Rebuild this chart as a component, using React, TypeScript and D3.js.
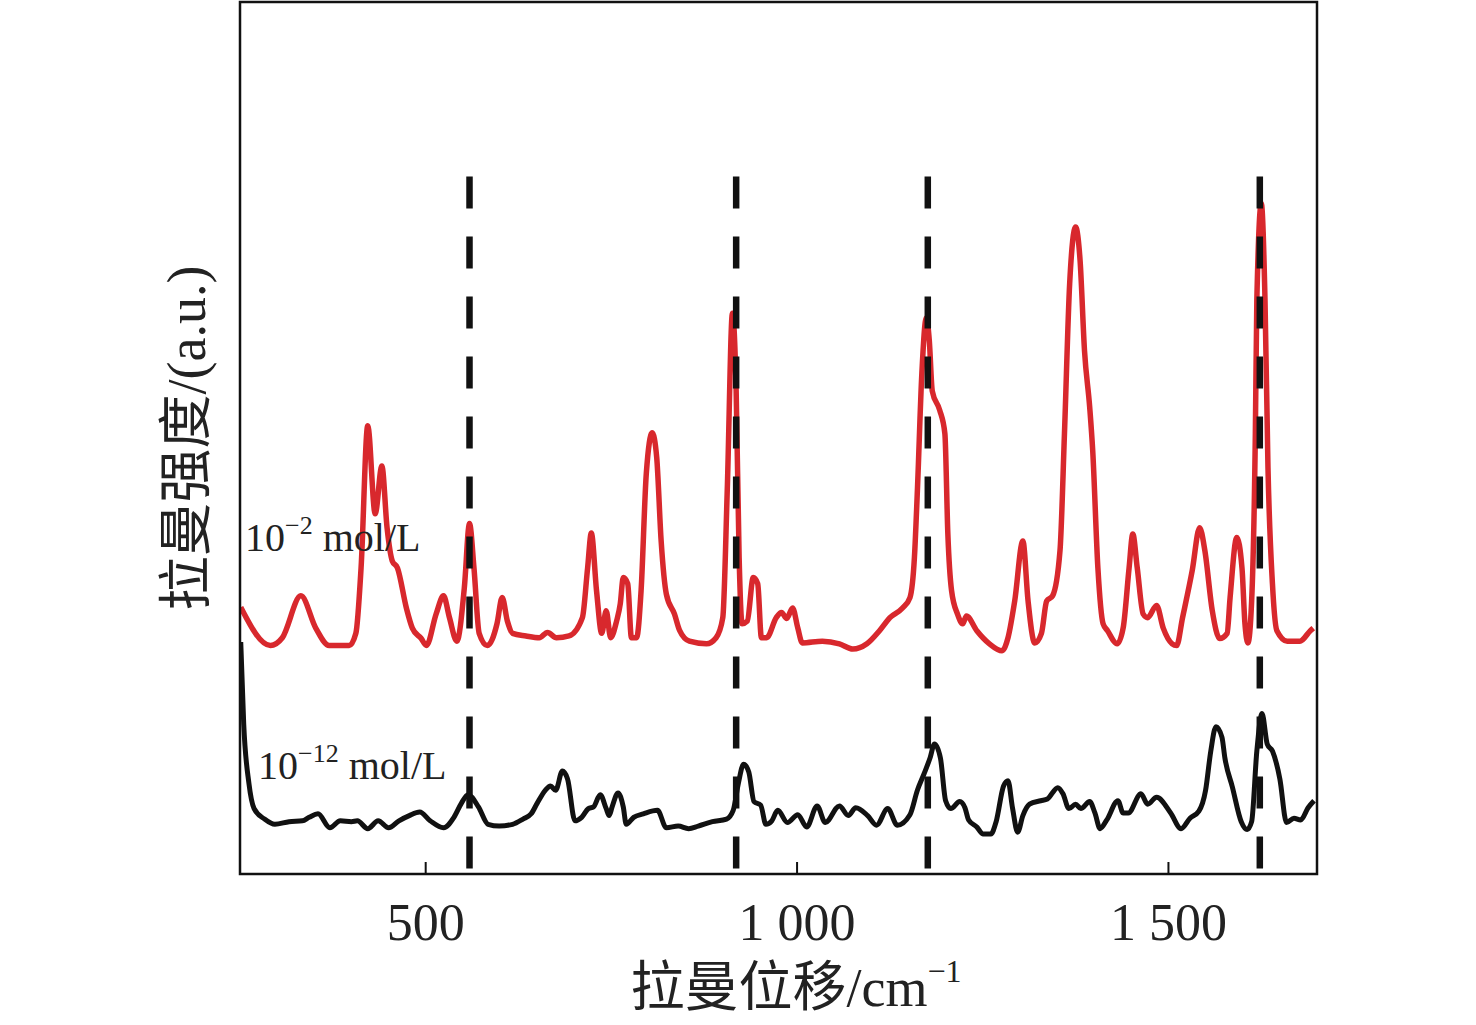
import * as d3 from 'd3';

// Raman shift (cm^-1) and intensity (a.u.)
const redShift = [
  251, 291, 307, 332, 352, 370, 397, 406, 413, 422, 432, 441, 448, 455, 462, 474, 482, 494, 501, 514,
  524, 532, 542, 552, 559, 565, 572, 583, 596, 603, 610, 617, 635, 653, 664, 676, 693, 711, 718, 723,
  730, 737, 743, 749, 757, 762, 766, 772, 777, 784, 790, 797, 805, 811, 817, 824, 835, 842, 855, 878,
  891, 900, 906, 913, 918, 922, 926, 933, 941, 947, 952, 959, 972, 979, 986, 994, 1001, 1007, 1034, 1057,
  1075, 1094, 1111, 1125, 1142, 1152, 1158, 1162, 1168, 1174, 1178, 1182, 1192, 1199, 1203, 1208, 1216, 1223, 1228, 1242,
  1259, 1276, 1284, 1293, 1304, 1311, 1320, 1329, 1336, 1344, 1354, 1360, 1367, 1375, 1381, 1387, 1394, 1398, 1405, 1412,
  1418, 1431, 1439, 1447, 1452, 1458, 1466, 1472, 1484, 1493, 1505, 1511, 1519, 1532, 1542, 1549, 1559, 1569, 1579, 1583,
  1592, 1599, 1603, 1607, 1612, 1617, 1619, 1625, 1630, 1634, 1640, 1646, 1660, 1677, 1691, 1695
];
const redIntensity = [
  306, 262, 271, 319, 282, 262, 262, 276, 351, 514, 413, 468, 397, 359, 351, 305, 282, 270, 262, 298,
  319, 294, 267, 328, 402, 351, 276, 262, 287, 317, 290, 276, 273, 271, 277, 271, 273, 294, 351, 391,
  325, 276, 302, 271, 290, 310, 340, 333, 271, 271, 325, 459, 506, 478, 382, 321, 298, 279, 267, 264,
  271, 294, 440, 643, 554, 363, 287, 290, 340, 333, 271, 271, 294, 300, 293, 305, 282, 265, 267, 264,
  258, 264, 279, 294, 305, 317, 363, 440, 574, 638, 612, 554, 532, 505, 390, 325, 298, 287, 296, 279,
  264, 256, 271, 313, 382, 313, 265, 276, 313, 319, 371, 505, 677, 742, 704, 600, 535, 486, 351, 287,
  279, 264, 282, 351, 390, 351, 298, 294, 308, 282, 264, 262, 294, 348, 397, 371, 302, 270, 276, 317,
  386, 351, 287, 265, 313, 505, 658, 769, 658, 466, 333, 279, 267, 267, 279, 282
];

const blackShift = [
  251, 255, 262, 269, 283, 297, 316, 334, 343, 355, 371, 385, 400, 408, 422, 436, 450, 464, 478, 492,
  506, 524, 538, 548, 557, 571, 584, 599, 617, 631, 642, 650, 661, 668, 675, 684, 691, 701, 710, 719,
  726, 735, 743, 747, 751, 759, 766, 770, 780, 793, 812, 824, 840, 854, 867, 886, 905, 914, 921, 928,
  935, 942, 951, 958, 966, 974, 987, 1001, 1013, 1027, 1038, 1057, 1069, 1079, 1095, 1107, 1122, 1135, 1152, 1162,
  1171, 1179, 1185, 1193, 1200, 1207, 1219, 1226, 1231, 1242, 1250, 1261, 1268, 1278, 1284, 1290, 1297, 1304, 1313, 1328,
  1337, 1351, 1358, 1366, 1375, 1382, 1394, 1401, 1408, 1417, 1432, 1439, 1446, 1463, 1472, 1484, 1503, 1517, 1529, 1541,
  1550, 1557, 1564, 1572, 1576, 1586, 1598, 1606, 1612, 1619, 1626, 1633, 1640, 1650, 1659, 1669, 1678, 1688, 1696
];
const blackIntensity = [
  266, 172, 104, 75, 63, 57, 60, 61, 65, 69, 53, 61, 60, 61, 52, 61, 53, 61, 67, 71,
  61, 53, 65, 81, 91, 77, 57, 55, 57, 63, 69, 81, 96, 101, 96, 118, 109, 61, 65, 75,
  77, 91, 75, 67, 77, 93, 77, 57, 65, 69, 73, 53, 55, 52, 55, 60, 63, 73, 104, 126,
  117, 83, 79, 57, 61, 73, 59, 68, 54, 78, 59, 78, 67, 76, 67, 56, 75, 56, 68, 96,
  115, 133, 149, 133, 84, 75, 83, 76, 62, 54, 46, 46, 60, 101, 107, 76, 48, 67, 80, 84,
  86, 99, 92, 75, 80, 75, 83, 70, 52, 62, 84, 70, 70, 92, 80, 88, 70, 52, 64, 72,
  96, 141, 169, 157, 133, 100, 60, 51, 60, 141, 184, 149, 141, 109, 59, 64, 62, 76, 84
];

const markerShifts = [559, 918, 1176, 1623];
const xTicks = [500, 1000, 1500];
const xTickLabels = ['500', '1 000', '1 500'];

const width = 1476;
const height = 1025;
const left = 240;
const right = 1317;
const top = 2;
const bottom = 874;

const serif = "'Liberation Serif', 'Times New Roman', 'Noto Sans CJK SC', serif";

export default function App() {
  const x = d3.scaleLinear().domain([250, 1700]).range([left, right]);
  const y = d3.scaleLinear().domain([0, 1000]).range([bottom, top]);

  const line = d3
    .line<[number, number]>()
    .x(d => x(d[0]))
    .y(d => y(d[1]))
    .curve(d3.curveMonotoneX);

  const red = redShift.map((s, i) => [s, redIntensity[i]] as [number, number]);
  const black = blackShift.map((s, i) => [s, blackIntensity[i]] as [number, number]);

  return (
    <svg
      xmlns="http://www.w3.org/2000/svg"
      width={width}
      height={height}
      style={{ position: 'absolute', left: 0, top: 0, background: '#fff' }}
    >
      <defs>
        <clipPath id="plot">
          <rect x={left} y={top} width={right - left} height={bottom - top} />
        </clipPath>
      </defs>
      <rect width={width} height={height} fill="#fff" />

      <g clipPath="url(#plot)">
        <path d={line(black) || ''} fill="none" stroke="#111" strokeWidth={5} strokeLinejoin="round" />
        <path d={line(red) || ''} fill="none" stroke="#d8282d" strokeWidth={5.5} strokeLinejoin="round" />
        {markerShifts.map(s => (
          <line
            key={s}
            x1={x(s)}
            x2={x(s)}
            y1={y(800)}
            y2={y(3)}
            stroke="#111"
            strokeWidth={6.5}
            strokeDasharray="32 28"
          />
        ))}
      </g>

      {xTicks.map(t => (
        <line key={t} x1={x(t)} x2={x(t)} y1={bottom} y2={bottom - 12} stroke="#111" strokeWidth={2} />
      ))}
      <rect
        x={left}
        y={top}
        width={right - left}
        height={bottom - top}
        fill="none"
        stroke="#111"
        strokeWidth={2.5}
      />

      {xTicks.map((t, i) => (
        <text key={t} x={x(t)} y={940} textAnchor="middle" fontFamily={serif} fontSize={52} fill="#222">
          {xTickLabels[i]}
        </text>
      ))}

      <text x={796} y={1006} textAnchor="middle" fontFamily={serif} fontSize={54} fill="#222">
        拉曼位移/cm
        <tspan fontSize={32} dy={-24}>−1</tspan>
      </text>

      <text
        transform="translate(205,438) rotate(-90)"
        textAnchor="middle"
        fontFamily={serif}
        fontSize={54}
        fill="#222"
      >
        拉曼强度/(a.u.)
      </text>

      <text x={245} y={551} fontFamily={serif} fontSize={40} fill="#222">
        10
        <tspan fontSize={26} dy={-17}>−2</tspan>
        <tspan dy={17}> mol/L</tspan>
      </text>
      <text x={258} y={779} fontFamily={serif} fontSize={40} fill="#222">
        10
        <tspan fontSize={26} dy={-17}>−12</tspan>
        <tspan dy={17}> mol/L</tspan>
      </text>
    </svg>
  );
}
